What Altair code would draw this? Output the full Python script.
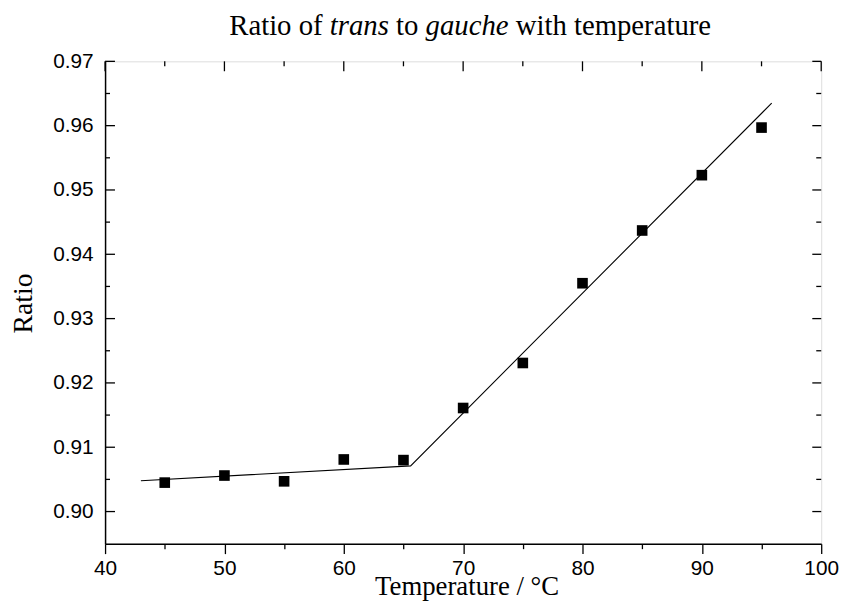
import altair as alt
import pandas as pd

# ---- data ----
temperature = [45, 50, 55, 60, 65, 70, 75, 80, 85, 90, 95]
ratio = [0.9045, 0.9056, 0.9047, 0.9081, 0.9080, 0.9161, 0.9231, 0.9355, 0.9437, 0.9523, 0.9597]

fit_temperature = [43.0, 65.6, 95.85]
fit_ratio = [0.9048, 0.9071, 0.9635]

x_major = [40, 50, 60, 70, 80, 90, 100]
x_minor = [45, 55, 65, 75, 85, 95]
y_major = [0.90, 0.91, 0.92, 0.93, 0.94, 0.95, 0.96, 0.97]
y_minor = [0.905, 0.915, 0.925, 0.935, 0.945, 0.955, 0.965]

title_pieces = ["Ratio of", "trans", "to", "gauche", "with temperature"]
title_italic = [False, True, False, True, False]
title_em_offsets = [0.0, 3.5, 5.806, 6.834, 9.972]

W, H = 723, 487
SERIF = "Liberation Serif"
SANS = "Liberation Sans"
TITLE_SIZE = 29
title_left = 365 - 16.526 * TITLE_SIZE / 2

pts = pd.DataFrame({"T": temperature, "R": ratio})
fit = pd.DataFrame({"T": fit_temperature, "R": fit_ratio})

xs = alt.Scale(domain=[40, 100], nice=False, zero=False)
ys = alt.Scale(domain=[0.895, 0.97], nice=False, zero=False)

x_axis = alt.Axis(
    values=sorted(x_major + x_minor),
    labelExpr="datum.value % 10 === 0 ? datum.label : ''",
    tickSize=alt.condition("datum.value % 10 === 0", alt.value(10), alt.value(5)),
    tickColor="black", tickWidth=1.3,
    domainColor="black", domainWidth=1.5,
    labelFont=SANS, labelFontSize=21, labelColor="black", labelPadding=4,
    labelFlush=False, labelOverlap=False,
    title="Temperature / °C", titleFont=SERIF, titleFontSize=27,
    titleFontWeight="normal", titleColor="black",
    titleX=365, titleY=51, titleBaseline="alphabetic", titleAlign="center",
    grid=False,
)
y_axis = alt.Axis(
    values=y_major, format=".2f", ticks=False,
    domainColor="black", domainWidth=1.5,
    labelFont=SANS, labelFontSize=21, labelColor="black", labelPadding=12,
    labelFlush=False, labelOverlap=False,
    title="Ratio", titleFont=SERIF, titleFontSize=28,
    titleFontWeight="normal", titleColor="black",
    titleX=-82, titleY=244, titleAngle=270, titleAlign="center",
    titleBaseline="middle", grid=False,
)

points = alt.Chart(pts).mark_square(size=115, color="black", opacity=1).encode(
    x=alt.X("T:Q", scale=xs, axis=x_axis),
    y=alt.Y("R:Q", scale=ys, axis=y_axis),
)
line = alt.Chart(fit).mark_line(color="black", strokeWidth=1.1).encode(
    x=alt.X("T:Q", scale=xs), y=alt.Y("R:Q", scale=ys)
)

def yticks(vals, x0, x1):
    return alt.Chart(pd.DataFrame({"v": vals})).mark_rule(color="black", strokeWidth=1.3).encode(
        y=alt.Y("v:Q", scale=ys), x=alt.value(x0), x2=alt.value(x1)
    )

def xticks(vals, y0, y1):
    return alt.Chart(pd.DataFrame({"v": vals})).mark_rule(color="black", strokeWidth=1.3).encode(
        x=alt.X("v:Q", scale=xs), y=alt.value(y0), y2=alt.value(y1)
    )

ticks = [
    yticks(y_major, 0, 10), yticks(y_minor, 0, 5),
    yticks(y_major, W, W - 9), yticks(y_minor, W, W - 5),
    xticks(x_major, 0, 10), xticks(x_minor, 0, 5),
]

tdf = pd.DataFrame({
    "txt": title_pieces,
    "italic": title_italic,
    "px": [title_left + o * TITLE_SIZE for o in title_em_offsets],
})
title_layers = []
for ital in (False, True):
    title_layers.append(
        alt.Chart(tdf[tdf["italic"] == ital]).mark_text(
            font=SERIF, fontSize=TITLE_SIZE, fontStyle="italic" if ital else "normal",
            align="left", baseline="alphabetic", color="black",
        ).encode(
            x=alt.X("px:Q", scale=None), y=alt.value(-27), text="txt:N"
        )
    )

chart = alt.layer(line, points, *ticks, *title_layers).properties(
    width=W, height=H,
    autosize=alt.AutoSizeParams(type="none"),
    padding={"left": 98, "top": 51, "right": 22, "bottom": 56},
).configure_view(stroke="black", strokeWidth=1.5).configure(background="white")

chart.save("out.html", embed_options={"renderer": "svg", "actions": False})
